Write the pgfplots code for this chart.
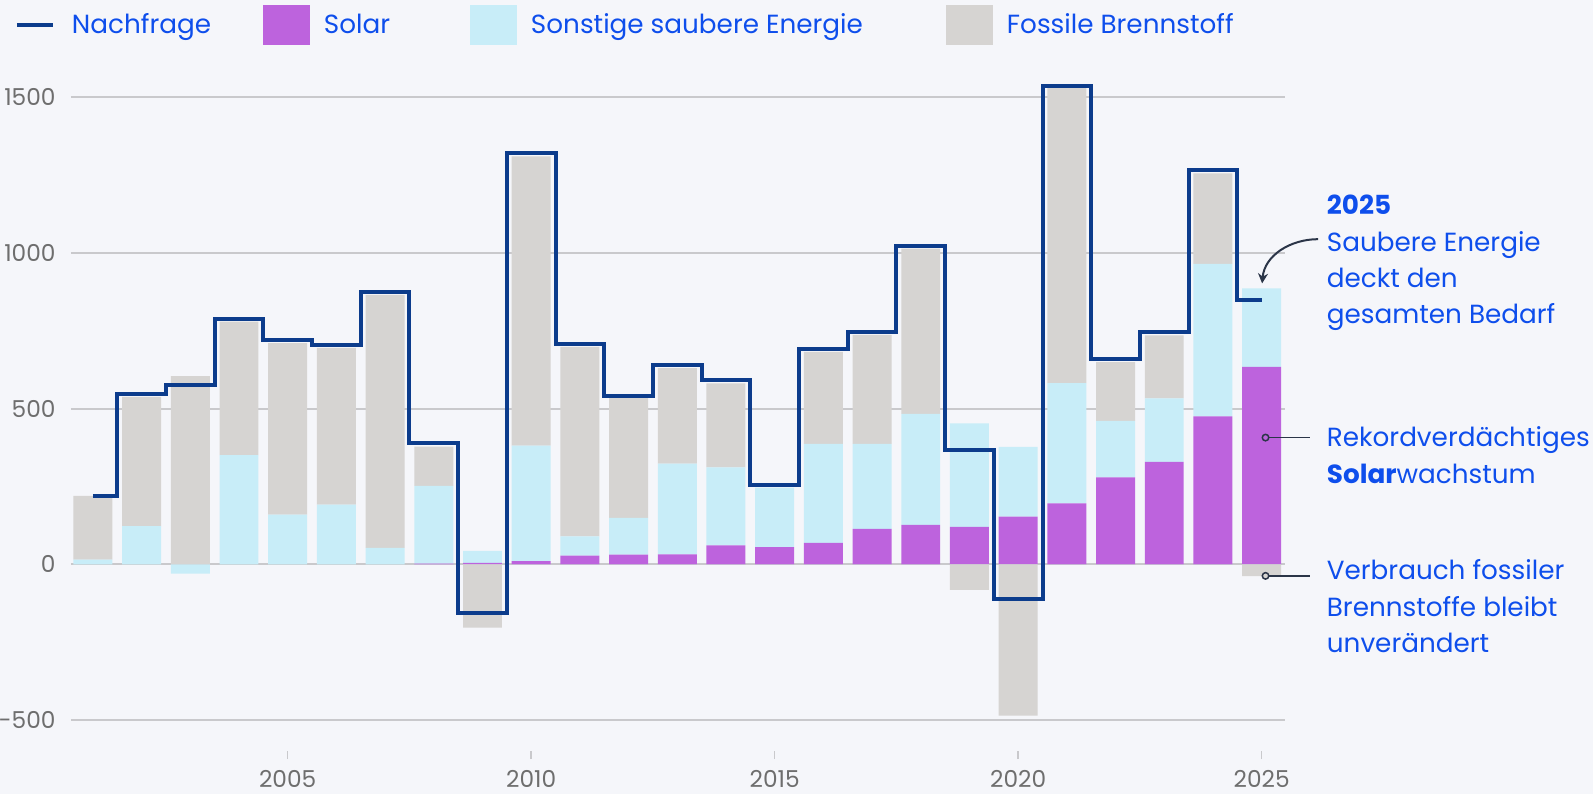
\documentclass[border=0pt]{standalone}
\usepackage{fontspec}
\setmainfont{Poppins}
\usepackage{pgfplots}
\pgfplotsset{compat=1.18}
\usepackage{pgfplotstable}
\usetikzlibrary{arrows.meta}

\definecolor{bgc}{HTML}{F5F6FA}
\definecolor{gridc}{HTML}{C9C9CC}
\definecolor{solarc}{HTML}{BD63DD}
\definecolor{otherc}{HTML}{C8EDF8}
\definecolor{fossilc}{HTML}{D6D4D2}
\definecolor{demandc}{HTML}{0C3C8C}
\definecolor{textblue}{HTML}{0E4EEC}
\definecolor{tickc}{HTML}{6E6E6E}
\definecolor{annotc}{HTML}{2B3548}

\pgfplotstableread{
year solar otherpos fossilpos otherneg fossilneg demand
2001 0 15 205 0 0 220
2002 0 123 415 0 0 548
2003 0 0 604 -30 0 576
2004 0 351 428 0 0 787
2005 0 160 550 0 0 719
2006 0 192 503 0 0 704
2007 0 53 812 0 0 876
2008 2 250 126 0 0 391
2009 5 38 0 0 -203 -157
2010 10 371 929 0 0 1321
2011 28 62 608 0 0 708
2012 31 118 385 0 0 542
2013 32 291 307 0 0 640
2014 61 250 270 0 0 592
2015 55 191 0 0 0 256
2016 69 318 295 0 0 692
2017 114 273 350 0 0 747
2018 127 356 531 0 0 1021
2019 120 333 0 0 -82 368
2020 153 224 0 0 -486 -111
2021 196 386 947 0 0 1536
2022 279 182 188 0 0 659
2023 329 204 202 0 0 746
2024 475 490 290 0 0 1265
2025 634 252 0 0 -38 850
}\data

\newcommand{\annfont}{\fontsize{10.5}{14.5}\selectfont}

\pgfplotsset{
  base/.style={
    width=485.6pt, height=274.1pt, scale only axis,
    xmin=2000.55, xmax=2025.48, ymin=-600, ymax=1600,
    at={(0pt,0pt)}, anchor=south west,
  }
}

\begin{document}
\begin{tikzpicture}
\fill[bgc] (-28.4pt,-17.1pt) rectangle (608.8pt,300.5pt);
\path[use as bounding box] (-28.4pt,-17.1pt) rectangle (608.8pt,300.5pt);

\begin{axis}[base, ybar stacked, bar width=0.8,
  axis line style={draw=none},
  ytick={-500,0,500,1000,1500}, yticklabels={-500,0,500,1000,1500},
  ymajorgrids, grid style={draw=gridc, line width=0.8pt},
  xtick={2005,2010,2015,2020,2025}, xticklabels={2005,2010,2015,2020,2025},
  tick pos=left, tick align=outside,
  xtick style={draw=gridc, line width=0.6pt}, major tick length=3.2pt,
  ytick style={draw=none},
  tick label style={font=\fontsize{9.3}{10}\selectfont, text=tickc},
  yticklabel style={inner sep=0pt, xshift=-2.8pt},
  xticklabel style={inner sep=0pt, yshift=-4.4pt},
]
\addplot[fill=solarc, draw=none] table[x=year, y=solar]{\data};
\addplot[fill=otherc, draw=none] table[x=year, y=otherpos]{\data};
\addplot[fill=fossilc, draw=none] table[x=year, y=fossilpos]{\data};
\end{axis}

\begin{axis}[base, hide axis, clip=false,
  legend columns=4,
  legend style={draw=none, fill=none, inner sep=0pt, outer sep=0pt,
    at={(axis description cs:0,1)}, anchor=west, xshift=-22.4pt, yshift=16.2pt,
    column sep=0pt,
    nodes={inner sep=0pt, text=textblue, font=\fontsize{10.5}{12}\selectfont}},
  legend cell align=left,
]
\addplot[ybar, bar width=0.8, bar shift=0pt, fill=otherc, draw=none, forget plot] table[x=year, y=otherneg]{\data};
\addplot[ybar, bar width=0.8, bar shift=0pt, fill=fossilc, draw=none, forget plot] table[x=year, y=fossilneg]{\data};
\addplot[const plot mark mid, demandc, line width=1.6pt, mark=none,
  legend image code/.code={\draw[demandc, line width=1.6pt] (0pt,0pt) -- (14.4pt,0pt); \path (21.2pt,0pt);}]
  table[x=year, y=demand]{\data};
\addlegendentry{\makebox[76.4pt][l]{Nachfrage}}
\addlegendimage{legend image code/.code={\fill[solarc] (0pt,-7.8pt) rectangle (18.4pt,7.8pt); \path (24pt,0pt);}}
\addlegendentry{\makebox[58.4pt][l]{Solar}}
\addlegendimage{legend image code/.code={\fill[otherc] (0pt,-7.8pt) rectangle (18.4pt,7.8pt); \path (24pt,0pt);}}
\addlegendentry{\makebox[166pt][l]{Sonstige saubere Energie}}
\addlegendimage{legend image code/.code={\fill[fossilc] (0pt,-7.8pt) rectangle (18.4pt,7.8pt); \path (24pt,0pt);}}
\addlegendentry{Fossile Brennstoff}

% annotations
\begin{scope}[every node/.style={anchor=base west, inner sep=0pt, text=textblue, font=\annfont}]
\node at (axis cs:2026.33,1124) {\bfseries 2025};
\node at (axis cs:2026.33,1006) {Saubere Energie};
\node at (axis cs:2026.33,889) {deckt den};
\node at (axis cs:2026.33,774) {gesamten Bedarf};
\node at (axis cs:2026.33,378) {Rekordverdächtiges};
\node at (axis cs:2026.33,260) {\textbf{Solar}wachstum};
\node at (axis cs:2026.33,-50) {Verbrauch fossiler};
\node at (axis cs:2026.33,-168) {Brennstoffe bleibt};
\node at (axis cs:2026.33,-282) {unverändert};
\end{scope}
\draw[annotc, line width=0.7pt] (axis cs:2025.08,407) -- (axis cs:2026.0,407);
\draw[annotc, line width=0.6pt, fill=solarc] (axis cs:2025.08,407) circle[radius=1.3pt];
\draw[annotc, line width=0.7pt] (axis cs:2025.08,-37) -- (axis cs:2026.0,-37);
\draw[annotc, line width=0.6pt, fill=fossilc] (axis cs:2025.08,-37) circle[radius=1.3pt];
\draw[annotc, line width=0.8pt, -{Stealth[length=4pt,width=4pt]}] (axis cs:2026.16,1044) to[out=180,in=85] (axis cs:2025.01,902);
\end{axis}
\end{tikzpicture}
\end{document}
